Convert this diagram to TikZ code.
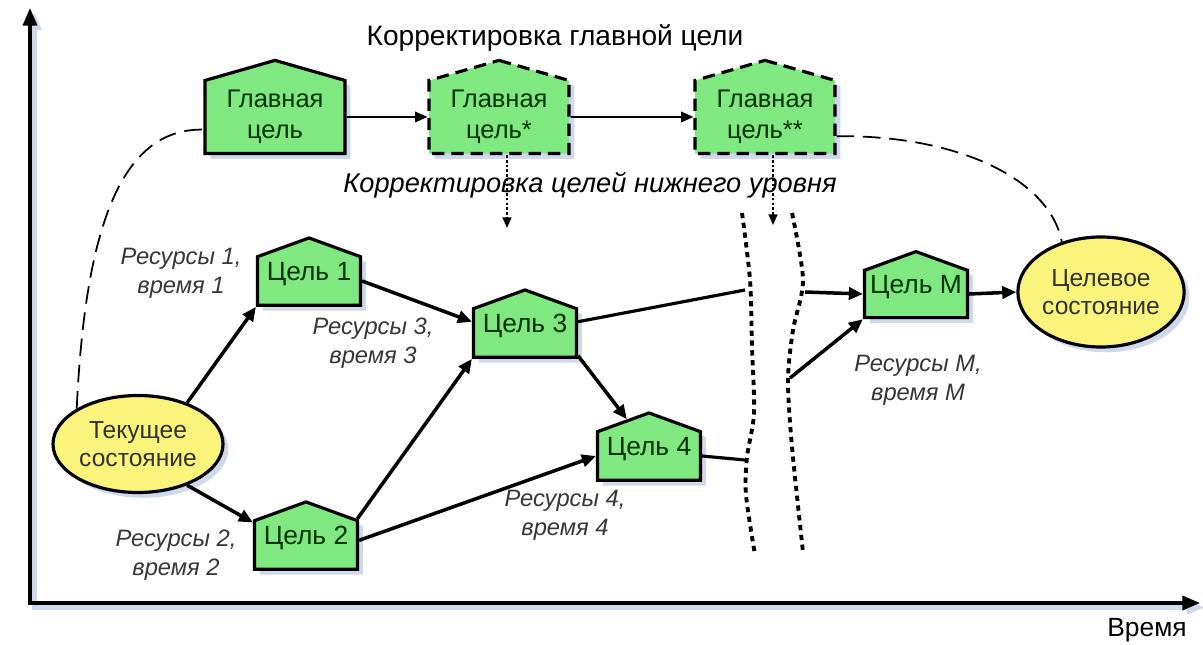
\documentclass[tikz,border=0pt]{standalone}
\usepackage{fontspec}
\setmainfont{Liberation Sans}
\usetikzlibrary{positioning,shapes.geometric,shapes.symbols,arrows.meta,shadows}
\definecolor{goalgreen}{RGB}{128,232,128}
\definecolor{stateyellow}{RGB}{250,244,125}
\definecolor{shadowblue}{RGB}{208,216,236}
\definecolor{labelgray}{RGB}{55,55,55}

\tikzset{
  goal/.style={signal, signal to=north, signal pointer angle=140, draw, line width=1.8pt,
    fill=goalgreen, minimum width=20.6mm, minimum height=12.8mm, inner sep=0pt,
    text height=11pt, text depth=12pt,
    text=black!80!green, font=\fontsize{15}{17}\selectfont,
    drop shadow={shadow xshift=3pt, shadow yshift=-3pt, fill=shadowblue, opacity=1}},
  maingoal/.style={goal, signal pointer angle=148, minimum width=28mm, minimum height=17.4mm,
    text height=, text depth=, align=center, font=\fontsize{14.5}{17.5}\selectfont},
  newgoal/.style={maingoal, dash pattern=on 7pt off 4pt},
  state/.style={ellipse, draw, line width=1.8pt, fill=stateyellow, align=center, inner sep=0pt,
    text=black!80, font=\fontsize{14}{16}\selectfont,
    drop shadow={shadow xshift=3pt, shadow yshift=-3pt, fill=shadowblue, opacity=1}},
  res/.style={align=center, text=labelgray, font=\itshape\fontsize{13.5}{16.5}\selectfont},
  link/.style={-{Triangle[length=8pt,width=7pt]}, line width=2pt},
  plain/.style={line width=1.8pt},
  nextgoal/.style={-{Triangle[length=7pt,width=6pt]}, line width=1pt},
  corr/.style={-{Triangle[length=6pt,width=5pt]}, line width=1pt, dash pattern=on 1.5pt off 1.2pt},
  bond/.style={line width=1pt, dash pattern=on 10pt off 5pt},
  brk/.style={line width=2.2pt, dash pattern=on 3pt off 2.6pt},
  axis/.style={-{Triangle[length=10pt,width=8pt]}, line width=1.8pt,
    preaction={draw=shadowblue, line width=2.5pt, transform canvas={shift={(2.5pt,-2.5pt)}}}}
}

\begin{document}
\begin{tikzpicture}[x=0.2mm, y=-0.2mm]
\useasboundingbox (0,0) rectangle (1203,645);

% axes
\draw[axis] (30,605) -- (30,8);
\draw[axis] (28,603) -- (1200,603);
\node (time) at (1147,630) {\fontsize{15}{17}\selectfont Время};

% main goal and its corrections
\node (title) at (555,38) {\fontsize{16}{19}\selectfont Корректировка главной цели};
\node[maingoal] (main) at (275,117) {Главная\\цель};
\node[newgoal] (main2) at (499,117) {Главная\\цель*};
\node[newgoal] (main3) at (765,117) {Главная\\цель**};
\node (lower) at (590,185) {\itshape\fontsize{15.5}{18}\selectfont Корректировка целей нижнего уровня};

% states
\node[state, minimum width=34mm, minimum height=19.4mm] (now) at (138,444) {Текущее\\состояние};
\node[state, minimum width=31.4mm, minimum height=22mm] (aim) at (1101,292) {Целевое\\состояние};

% goals
\node[goal] (g1) at (309,281) {Цель 1};
\node[goal] (g2) at (306,545) {Цель 2};
\node[goal] (g3) at (525,333) {Цель 3};
\node[goal] (g4) at (649,456) {Цель 4};
\node[goal] (gm) at (916,294) {Цель M};

% resources
\node[res] (r1) at (181,273) {Ресурсы 1,\\время 1};
\node[res] (r2) at (176,555) {Ресурсы 2,\\время 2};
\node[res] (r3) at (373,343) {Ресурсы 3,\\время 3};
\node[res] (r4) at (565,515) {Ресурсы 4,\\время 4};
\node[res] (rm) at (918,380) {Ресурсы M,\\время M};

% break in time
\draw[brk] plot[smooth] coordinates {(742,213) (750,280) (752,347) (754,413) (747,457) (746,495) (755,555)};
\draw[brk] plot[smooth] coordinates {(792,213) (803,280) (793,330) (788,380) (792,447) (803,552)};
\coordinate (cut3) at (745,290);
\coordinate (cut4) at (745,460);
\coordinate (resm1) at (805,292);
\coordinate (resm2) at (790,378);
\coordinate (d2) at (507,228);
\coordinate (d3) at (773,225);

% connectors
\draw[nextgoal] (main) -- (main2);
\draw[nextgoal] (main2) -- (main3);
\draw[corr] (main2.south -| d2) -- (d2);
\draw[corr] (main3.south -| d3) -- (d3);
\draw[bond] (now.150) .. controls (85,230) and (120,128) .. (main.190);
\draw[bond] (main3.-15) .. controls (960,135) and (1050,180) .. (aim.128);

\draw[link] (now.40) -- (g1.south west);
\draw[link] (now.-40) -- (g2.157);
\draw[link] (g1.east) -- (g3.168);
\draw[link] (g2.27) -- (g3.south west);
\draw[link] (g2.5) -- (g4.west);
\draw[link] (g3.south east) -- (g4.121);
\draw[plain] (g3.12) -- (cut3);
\draw[plain] (g4.east) -- (cut4);
\draw[link] (resm1) -- (gm.west);
\draw[link] (resm2) -- (gm.south west);
\draw[link] (gm.east) -- (aim.west);

\end{tikzpicture}
\end{document}
